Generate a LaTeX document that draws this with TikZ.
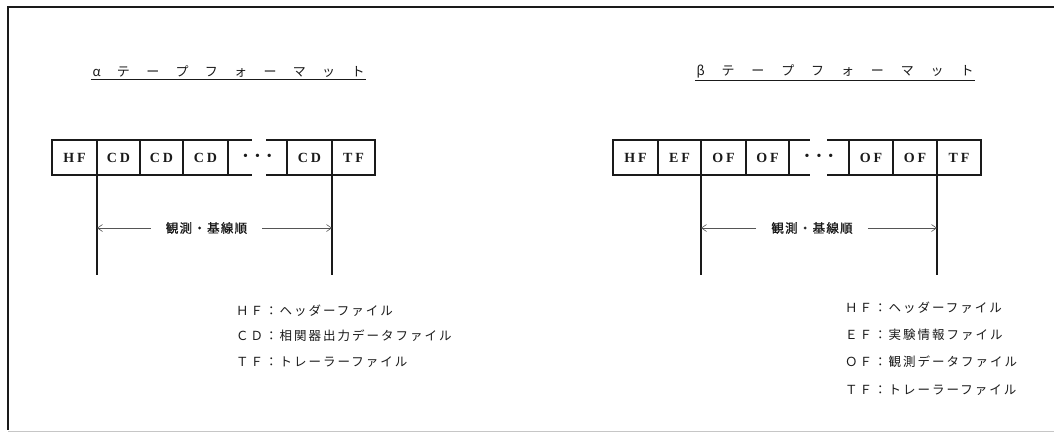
\documentclass[tikz,border=0pt]{standalone}
\usepackage{fontspec}
\setmainfont{Liberation Serif}
\newfontfamily\cjk{Noto Sans CJK JP}
\newfontfamily\cjkl[LetterSpace=16]{Noto Sans CJK JP}
\newfontfamily\cjkb[LetterSpace=10,FakeBold=1.2]{Noto Sans CJK JP}
\usetikzlibrary{arrows.meta}
\definecolor{ink}{HTML}{1A1A1A}
\definecolor{thin}{HTML}{555555}
\begin{document}
\begin{tikzpicture}[x=1pt,y=-1pt,
  cell/.style={draw=ink,line width=1.3pt,minimum height=35pt,inner sep=0pt,outer sep=0pt,
    font=\bfseries\fontsize{14}{14}\selectfont,text=ink},
  dotcell/.style={minimum height=35pt,inner sep=0pt,outer sep=0pt,font=\fontsize{14}{14}\selectfont,text=ink},
  edge/.style={draw=ink,line width=1.3pt},
  vline/.style={draw=ink,line width=1.3pt},
  arr/.style={draw=thin,line width=0.6pt,-{Straight Barb[length=5pt,width=7pt]}},
  span/.style={text=ink,inner xsep=15pt,font=\cjkb\fontsize{12.5}{13}\selectfont},
  title/.style={text=ink,inner sep=1.5pt,font=\cjk\fontsize{13}{14}\selectfont},
  uline/.style={draw=ink,line width=0.8pt},
  legend/.style={text=ink,anchor=west,inner sep=0pt,font=\cjkl\fontsize{12.5}{14}\selectfont},
  frame/.style={draw=ink,line width=1.4pt}]
\useasboundingbox[fill=white] (0,0) rectangle (1054,437);
% frame
\draw[frame] (1054,7) -- (8,7) -- (8,430);
\draw[gray!45,line width=0.8pt] (8,431) -- (1054,431);

% ---------- alpha ----------
\node[title] (at) at (228.5,71.5) {\makebox[272pt][s]{α\hfill テ\hfill ー\hfill プ\hfill フ\hfill ォ\hfill ー\hfill マ\hfill ッ\hfill ト}};
\draw[uline] (at.south west) -- (at.south east);

\node[cell,minimum width=45pt,anchor=north west] (a1) at (52,140) {H\hspace{3pt}F};
\node[cell,minimum width=43pt,anchor=west] (a2) at (a1.east) {C\hspace{3pt}D};
\node[cell,minimum width=43pt,anchor=west] (a3) at (a2.east) {C\hspace{3pt}D};
\node[cell,minimum width=45pt,anchor=west] (a4) at (a3.east) {C\hspace{3pt}D};
\node[dotcell,minimum width=59pt,anchor=west] (a5) at (a4.east) {•\hspace{7pt}•\hspace{7pt}•};
\node[cell,minimum width=45pt,anchor=west] (a6) at (a5.east) {C\hspace{3pt}D};
\node[cell,minimum width=43pt,anchor=west] (a7) at (a6.east) {T\hspace{3pt}F};
\draw[edge] (a5.north west) -- ++(24,0);
\draw[edge] (a5.north east) -- ++(-21,0);
\draw[edge] (a5.south west) -- ++(24,0);
\draw[edge] (a5.south east) -- ++(-21,0);

\coordinate (aLb) at (97,275);
\coordinate (aRb) at (332,275);
\coordinate (aLa) at (97,228);
\coordinate (aRa) at (332,228);
\draw[vline] (a2.south west) -- (aLb);
\draw[vline] (a7.south west) -- (aRb);
\node[span] (al) at (206.5,228) {観測・基線順};
\draw[arr] (al.west) -- (aLa);
\draw[arr] (al.east) -- (aRa);

\node[legend] (ah) at (236,311) {ＨＦ：ヘッダーファイル};
\node[legend] (ac) at (236,336) {ＣＤ：相関器出力データファイル};
\node[legend] (atf) at (236,362) {ＴＦ：トレーラーファイル};

% ---------- beta ----------
\node[title] (bt) at (835,71.5) {\makebox[277pt][s]{β\hfill テ\hfill ー\hfill プ\hfill フ\hfill ォ\hfill ー\hfill マ\hfill ッ\hfill ト}};
\draw[uline] (bt.south west) -- (bt.south east);

\node[cell,minimum width=45pt,anchor=north west] (b1) at (613,140) {H\hspace{3pt}F};
\node[cell,minimum width=43pt,anchor=west] (b2) at (b1.east) {E\hspace{3pt}F};
\node[cell,minimum width=45pt,anchor=west] (b3) at (b2.east) {O\hspace{3pt}F};
\node[cell,minimum width=43pt,anchor=west] (b4) at (b3.east) {O\hspace{3pt}F};
\node[dotcell,minimum width=60pt,anchor=west] (b5) at (b4.east) {•\hspace{7pt}•\hspace{7pt}•};
\node[cell,minimum width=44pt,anchor=west] (b6) at (b5.east) {O\hspace{3pt}F};
\node[cell,minimum width=44pt,anchor=west] (b7) at (b6.east) {O\hspace{3pt}F};
\node[cell,minimum width=44pt,anchor=west] (b8) at (b7.east) {T\hspace{3pt}F};
\draw[edge] (b5.north west) -- ++(21,0);
\draw[edge] (b5.north east) -- ++(-22,0);
\draw[edge] (b5.south west) -- ++(21,0);
\draw[edge] (b5.south east) -- ++(-22,0);

\coordinate (bLb) at (701,275);
\coordinate (bRb) at (937,275);
\coordinate (bLa) at (701,228);
\coordinate (bRa) at (937,228);
\draw[vline] (b3.south west) -- (bLb);
\draw[vline] (b8.south west) -- (bRb);
\node[span] (bl) at (812,228) {観測・基線順};
\draw[arr] (bl.west) -- (bLa);
\draw[arr] (bl.east) -- (bRa);

\node[legend] (bh) at (845,308) {ＨＦ：ヘッダーファイル};
\node[legend] (be) at (845,335) {ＥＦ：実験情報ファイル};
\node[legend] (bo) at (845,362) {ＯＦ：観測データファイル};
\node[legend] (btf) at (845,390) {ＴＦ：トレーラーファイル};
\end{tikzpicture}
\end{document}
